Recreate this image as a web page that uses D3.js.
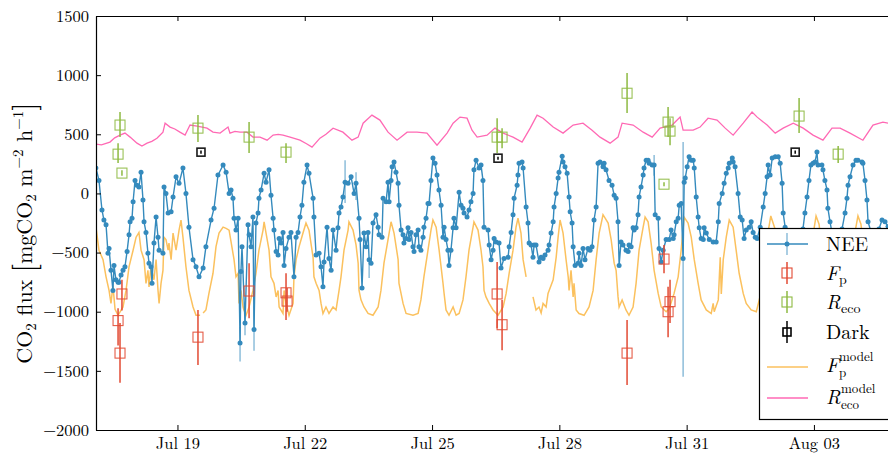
<!DOCTYPE html>
<html>
<head>
<meta charset="utf-8">
<script src="https://cdn.jsdelivr.net/npm/d3@7"></script>
<style>
  body { margin: 0; background: #fff; }
  svg { display: block; }
  svg text { font-family: 'Latin Modern Roman', 'Liberation Serif', serif; }
</style>
</head>
<body>
<div id="chart"></div>
<script>
// all times are hours since Jul 17 00:00
const neeSeries = [[1.9,215],[3.6,110],[5.3,-140],[6.4,-225],[7.6,-265],[8.7,-505],[9.3,-465],[10.4,-650],[11.5,-820],[12.1,-610],[13.2,-730],[14.4,-750],[14.9,-750],[16.1,-690],[17.2,-650],[18.3,-620],[19.5,-490],[20.6,-350],[21.2,-240],[22.3,-210],[22.9,-70],[24.0,110],[25.1,70],[26.2,55],[27.4,180],[28.5,-55],[29.1,-240],[30.2,-330],[31.3,-505],[31.9,-590],[33.0,-620],[33.6,-760],[34.7,-420],[35.9,-200],[37.0,-370],[37.6,-480],[39.8,-505],[40.4,55],[41.5,0],[42.7,-165],[44.4,-155],[45.5,-30],[47.2,140],[48.9,85],[51.1,215],[52.8,0],[54.5,-285],[56.8,-560],[58.5,-620],[60.2,-705],[62.5,-630],[64.1,-450],[67.0,-225],[68.7,-125],[70.9,155],[73.8,240],[75.5,180],[77.2,0],[78.3,30],[79.4,-40],[80.0,-210],[81.1,-310],[82.3,-210],[83.4,-1265],[83.9,-660],[84.5,-450],[86.2,-1095],[87.9,-265],[88.5,-350],[89.6,-450],[90.7,-200],[91.3,-1150],[92.4,-250],[93.6,-165],[94.1,-40],[95.3,30],[97.0,170],[98.1,95],[99.8,200],[100.9,-15],[102.1,-210],[102.6,-310],[103.8,-490],[104.9,-520],[105.5,-380],[106.6,-420],[107.7,-330],[108.3,-610],[109.4,-465],[111.1,-370],[112.2,-330],[113.9,-705],[115.1,-370],[116.2,-330],[117.3,-200],[118.4,-100],[119.5,95],[121.3,240],[122.4,170],[124.7,-40],[125.2,-200],[126.4,-520],[128.1,-505],[129.2,-620],[130.3,-790],[130.9,-580],[132.6,-285],[133.7,-550],[134.9,-650],[136.0,-310],[137.7,-480],[138.8,-290],[139.4,-165],[140.5,-115],[141.6,-30],[142.8,95],[144.5,85],[146.2,140],[147.9,0],[149.0,85],[150.7,-210],[151.3,-390],[152.4,-800],[153.5,-335],[154.7,-450],[155.8,-330],[156.4,-560],[157.5,-590],[158.6,-250],[160.3,-180],[161.5,-285],[162.0,-350],[163.7,-370],[164.3,-40],[166.0,-70],[167.1,95],[167.7,-70],[168.8,110],[169.4,225],[170.5,265],[171.6,180],[172.8,85],[173.3,-100],[174.5,-310],[175.6,-350],[176.1,-420],[177.3,-380],[178.4,-290],[179.0,-390],[180.1,-330],[181.2,-450],[181.8,-490],[182.9,-350],[184.1,-310],[184.6,-450],[185.7,-480],[186.9,-370],[187.4,-285],[188.6,-210],[189.7,-85],[190.3,-85],[191.4,110],[192.5,300],[193.7,255],[194.8,155],[195.9,30],[197.1,-100],[198.2,-370],[198.8,-285],[199.9,-390],[201.0,-480],[201.6,-610],[202.7,-480],[203.9,-290],[204.4,-210],[205.6,-290],[207.3,10],[208.4,-100],[209.5,-125],[210.1,-165],[211.8,-200],[212.9,-140],[214.0,-70],[215.2,0],[215.7,200],[216.9,280],[218.6,215],[219.7,240],[220.8,110],[221.4,-285],[223.7,-310],[224.3,-435],[225.4,-560],[226.5,-480],[227.1,-380],[228.2,-410],[229.9,-420],[231.0,-630],[232.7,-550],[235.0,-540],[235.6,-450],[236.7,-330],[237.8,-180],[238.4,-40],[240.1,70],[240.6,155],[241.2,255],[242.9,265],[243.5,215],[245.2,-115],[246.3,-250],[246.9,-420],[248.0,-435],[249.1,-540],[249.7,-435],[250.8,-435],[252.5,-580],[253.7,-540],[254.8,-550],[255.9,-520],[257.6,-480],[258.2,-435],[259.3,-335],[260.5,-240],[261.0,-115],[262.2,0],[263.3,130],[263.8,180],[265.6,315],[266.1,265],[267.2,225],[268.4,170],[269.5,-30],[270.1,-155],[271.2,-250],[271.8,-450],[272.9,-610],[274.6,-590],[275.1,-505],[276.3,-610],[277.4,-465],[278.5,-560],[280.2,-465],[281.4,-480],[282.5,-450],[283.6,-225],[284.8,-115],[285.9,255],[287.0,265],[288.7,225],[289.3,255],[290.4,200],[292.1,110],[293.8,70],[295.0,-15],[296.1,-40],[297.2,-240],[297.8,-610],[298.9,-410],[300.0,-435],[301.7,-480],[302.9,-490],[303.4,-435],[304.6,-450],[305.7,-290],[306.3,-310],[307.4,-290],[308.5,-180],[309.1,-30],[310.2,55],[311.4,155],[311.9,215],[313.1,280],[314.2,280],[314.8,255],[316.5,240],[317.6,240],[318.2,-180],[319.9,-210],[320.4,-465],[321.6,-580],[322.7,-480],[324.4,-390],[326.1,-390],[327.2,-310],[328.4,-380],[328.9,-350],[330.1,-240],[331.2,-210],[331.8,-100],[332.9,-85],[334.0,-550],[334.6,95],[335.2,130],[336.3,225],[337.4,310],[338.6,280],[339.7,280],[340.3,215],[341.4,-30],[342.5,-200],[343.1,-290],[344.2,-380],[345.4,-390],[345.9,-290],[347.1,-335],[348.8,-390],[351.0,-410],[352.7,-410],[353.9,-240],[354.4,-85],[356.1,0],[357.2,85],[358.4,170],[359.5,215],[360.1,255],[361.8,300],[362.3,265],[363.4,225],[365.1,0],[366.3,-200],[367.4,-225],[368.5,-380],[369.7,-310],[371.4,-285],[372.5,-240],[373.6,-330],[374.8,-370],[375.9,-380],[377.6,-285],[379.3,-115],[380.4,0],[381.5,140],[382.1,240],[383.2,155],[384.4,300],[386.1,310],[387.8,310],[388.9,255],[390.0,85],[390.6,-165],[391.7,-285],[393.4,-400],[395.1,-450],[397.3,-480],[399.0,-420],[400.7,-380],[401.8,-300],[402.9,-165],[404.1,-30],[405.2,110],[406.3,240],[407.5,255],[408.6,265],[409.7,350],[410.3,240],[412.5,240],[413.1,200],[414.2,110],[415.4,30],[415.9,-125],[417.1,-240],[418.8,-380],[420.5,-450],[422.2,-420],[423.9,-300],[425.6,-165],[426.7,-40],[427.3,70],[428.4,140],[430.1,240],[431.8,280],[432.9,280],[435.2,265],[435.7,255],[436.9,110],[438.0,-55],[438.6,-240],[440.8,-350],[443.1,-380],[444.8,-300],[446.5,-225],[448.2,-240],[449.9,-280]];

// [hour, low, high]
const neeErrors = [[83.4,-1420,-1130],[86.2,-1200,-990],[91.3,-1330,-950],[142.8,-80,280],[149.0,-55,180],[156.4,-715,-560],[317.6,150,325],[334.0,-1550,435]];

// [hour, value, low, high]
const fpPoints = [[14.4,-1075,-1285,-970],[15.5,-1350,-1600,-1095],[16.6,-850,-990,-730],[59.6,-1215,-1450,-985],[88.5,-825,-1055,-590],[109.4,-840,-1070,-675],[110.0,-910,-1000,-800],[228.8,-850,-1140,-580],[231.6,-1110,-1325,-900],[302.3,-1350,-1620,-1070],[323.2,-555,-675,-435],[325.5,-1000,-1215,-790],[326.6,-915,-1095,-730]];
const recoPoints = [[14.4,332,257,425],[15.5,578,476,688],[16.6,172,150,195],[59.6,552,434,662],[88.5,476,341,603],[109.4,349,257,425],[228.8,476,341,636],[231.6,476,383,552],[302.3,847,679,1018],[323.2,78,60,95],[325.5,603,476,730],[326.6,527,408,636],[399.6,654,510,806],[421.7,332,257,400]];
const darkPoints = [[61.3,349,335,363],[229.3,298,285,310],[397.4,349,335,363]];

const fpModel = [[1.9,-285],[3.6,-480],[5.9,-560],[7.6,-705],[9.3,-820],[10.4,-930],[11.5,-780],[12.7,-980],[14.4,-1030],[17.2,-960],[18.9,-820],[20.6,-620],[22.9,-480],[24.6,-370],[26.2,-330],[27.4,-480],[29.1,-560],[30.2,-760],[31.3,-650],[31.9,-790],[33.0,-620],[34.7,-730],[35.9,-560],[37.0,-820],[37.6,-930],[38.7,-760],[39.8,-650],[40.4,-370],[41.5,-390],[42.7,-480],[43.2,-420],[44.4,-560],[45.5,-335],[47.2,-480],[48.9,-310],[50.0,-225],[51.1,-370],[52.8,-620],[54.5,-820],[56.8,-960],[58.5,-1030],[60.8,-1030],[61.5,null],[62.5,-1010],[64.1,-985],[65.8,-845],[68.1,-675],[69.8,-450],[71.5,-335],[73.8,-285],[75.5,-295],[77.2,-310],[80.0,-560],[81.1,-705],[82.3,-675],[82.8,-930],[83.9,-820],[85.1,-960],[85.6,-985],[86.8,-1030],[88.5,-960],[90.7,-820],[92.4,-675],[94.1,-480],[96.4,-310],[97.0,-240],[98.1,-335],[99.8,-480],[100.9,-705],[102.6,-760],[103.8,-875],[104.9,-820],[105.5,-960],[107.7,-1015],[108.3,-820],[109.4,-930],[111.1,-1030],[113.4,-930],[113.9,-705],[115.1,-560],[116.8,-450],[119.0,-335],[120.7,-250],[122.4,-310],[124.7,-540],[125.2,-705],[126.4,-760],[128.1,-820],[129.2,-930],[130.3,-1015],[132.0,-960],[133.7,-1015],[136.0,-960],[137.7,-985],[139.4,-820],[140.5,-705],[142.2,-480],[144.5,-310],[145.0,-240],[147.3,-310],[149.0,-435],[150.2,-590],[150.7,-820],[151.8,-900],[153.5,-960],[155.8,-1015],[158.6,-1030],[161.5,-960],[163.1,-820],[164.8,-590],[167.1,-390],[168.8,-240],[170.5,-335],[172.8,-560],[173.3,-760],[175.6,-930],[177.3,-1015],[181.2,-1030],[184.1,-1015],[185.7,-900],[187.4,-705],[189.7,-480],[191.4,-310],[192.5,-225],[194.3,-285],[196.0,-480],[198.2,-760],[198.8,-845],[199.9,-985],[201.6,-1030],[203.9,-960],[205.6,-1030],[207.3,-1015],[209.5,-900],[211.2,-705],[212.9,-480],[215.2,-285],[215.7,-240],[218.0,-310],[219.7,-480],[220.8,-620],[221.4,-820],[222.5,-875],[224.3,-930],[226.5,-985],[229.3,-1030],[232.2,-960],[233.9,-845],[235.6,-675],[237.8,-480],[239.5,-285],[240.6,-210],[242.3,-335],[243.5,-560],[245.2,-705],[246.5,null],[249.1,-875],[250.8,-985],[252.5,-960],[253.7,-1010],[254.8,-930],[256.5,-960],[257.6,-845],[260.5,-730],[262.2,-540],[263.3,-370],[264.4,-225],[266.1,-335],[267.8,-560],[269.0,-705],[269.5,-820],[270.6,-650],[271.8,-875],[272.3,-760],[273.5,-985],[275.1,-1015],[278.0,-1030],[280.8,-960],[283.1,-820],[284.8,-560],[286.5,-335],[288.7,-180],[291.6,-250],[293.3,-390],[295.0,-590],[296.1,-650],[297.2,-875],[297.8,-960],[299.5,-900],[301.7,-985],[303.4,-1030],[305.7,-960],[307.4,-760],[309.1,-480],[311.4,-285],[312.5,-200],[314.2,-240],[315.9,-420],[317.6,-650],[319.9,-845],[321.6,-960],[324.4,-1000],[326.1,-975],[328.9,-845],[331.2,-705],[332.9,-480],[334.6,-200],[336.8,-250],[338.6,-370],[340.3,-560],[342.5,-760],[344.2,-900],[347.1,-985],[349.9,-1015],[351.0,-930],[351.6,-1000],[353.9,-900],[355.0,-540],[355.6,-850],[356.7,-560],[358.4,-370],[360.1,-225],[362.3,-285],[364.0,-480],[365.7,-675],[368.0,-845],[369.7,-930],[372.5,-985],[375.4,-1000],[378.7,-800],[381.0,-420],[383.6,-190],[386.0,-300],[388.3,-600],[391.0,-850],[393.9,-980],[399.0,-1020],[403.5,-980],[405.8,-700],[407.5,-350],[409.2,-190],[410.9,-260],[413.1,-560],[416.0,-860],[418.8,-990],[423.3,-1020],[427.8,-950],[429.5,-680],[431.2,-330],[432.9,-190],[434.6,-260],[436.9,-560],[439.7,-860],[443.1,-990],[450.4,-1020]];

const recoModel = [[1.9,417],[5.0,410],[9.8,434],[12.5,470],[15.5,493],[18.3,510],[21.2,476],[25.1,425],[27.9,400],[30.8,425],[33.5,440],[36.4,467],[39.8,518],[41.0,594],[43.8,561],[46.5,545],[49.4,518],[52.3,493],[55.1,578],[59.1,569],[62.0,560],[64.7,552],[68.1,518],[72.1,510],[76.6,561],[77.7,510],[80.5,525],[83.4,518],[87.3,518],[90.7,476],[94.7,476],[98.7,450],[102.1,493],[105.0,500],[107.7,493],[111.7,476],[117.3,450],[121.0,420],[124.1,392],[128.6,467],[132.0,500],[136.0,552],[141.6,518],[146.7,450],[150.2,476],[153.0,594],[158.0,662],[162.5,620],[167.1,518],[172.2,450],[177.9,518],[183.5,518],[189.1,510],[194.8,408],[200.5,510],[203.9,594],[207.8,645],[211.8,636],[214.6,535],[217.5,476],[223.1,493],[227.6,552],[232.2,510],[237.8,476],[242.9,434],[247.5,552],[251.4,662],[254.8,636],[260.5,561],[266.1,510],[271.8,578],[277.4,594],[282.5,535],[287.0,476],[292.7,425],[297.2,476],[299.5,594],[305.7,578],[311.4,518],[316.5,476],[321.0,552],[327.8,578],[332.3,645],[334.0,535],[339.7,535],[343.6,561],[348.1,636],[353.2,620],[357.8,552],[362.3,493],[368.0,594],[373.0,688],[375.9,645],[381.5,578],[386.1,510],[390.6,552],[396.3,594],[401.9,552],[407.5,493],[413.1,450],[418.2,552],[422.8,552],[428.4,510],[435.7,450],[441.4,578],[447.0,603],[449.9,594]];

const yTicks = [-2000, -1500, -1000, -500, 0, 500, 1000, 1500];
const xTickDays = [19, 22, 25, 28, 31, 34];   // July day numbers, 34 = Aug 03

const t0 = Date.UTC(2015, 6, 17);
const toDate = h => new Date(t0 + h * 3600e3);

const W = 888, H = 455;
const plotLeft = 96, plotTop = 16, plotBottom = 430;

const svg = d3.select("#chart").append("svg")
    .attr("width", W)
    .attr("height", H);

const x = d3.scaleUtc()
    .domain([toDate(1.92), new Date(Date.UTC(2015, 7, 5))])
    .range([plotLeft, 898.8]);
const y = d3.scaleLinear()
    .domain([-2000, 1500])
    .range([plotBottom, plotTop]);

const cBlue = "#348ABD", cRed = "#E24A33", cGreen = "#8EBA42",
      cOrange = "#FBC15E", cPink = "#FF69B4";

svg.append("clipPath").attr("id", "plot")
    .append("rect")
    .attr("x", plotLeft).attr("y", plotTop)
    .attr("width", W - plotLeft).attr("height", plotBottom - plotTop);

const plot = svg.append("g").attr("clip-path", "url(#plot)");

const line = d3.line()
    .defined(d => d[1] !== null)
    .x(d => x(toDate(d[0])))
    .y(d => y(d[1]));

// model lines
plot.append("path")
    .datum(fpModel)
    .attr("d", line)
    .attr("fill", "none")
    .attr("stroke", cOrange)
    .attr("stroke-width", 1.5);

plot.append("path")
    .datum(recoModel)
    .attr("d", line)
    .attr("fill", "none")
    .attr("stroke", cPink)
    .attr("stroke-width", 1.3);

// NEE
plot.selectAll(".nee-err")
    .data(neeErrors)
    .enter().append("line")
    .attr("x1", d => x(toDate(d[0])))
    .attr("x2", d => x(toDate(d[0])))
    .attr("y1", d => y(d[1]))
    .attr("y2", d => y(d[2]))
    .attr("stroke", cBlue)
    .attr("stroke-opacity", 0.65)
    .attr("stroke-width", 1.3);

plot.append("path")
    .datum(neeSeries)
    .attr("d", line)
    .attr("fill", "none")
    .attr("stroke", cBlue)
    .attr("stroke-width", 1.4);

plot.selectAll(".nee-dot")
    .data(neeSeries)
    .enter().append("circle")
    .attr("cx", d => x(toDate(d[0])))
    .attr("cy", d => y(d[1]))
    .attr("r", 2.5)
    .attr("fill", cBlue);

// square markers with error bars
function squares(data, color, size, width) {
    const g = plot.append("g");
    g.selectAll("line")
        .data(data)
        .enter().append("line")
        .attr("x1", d => x(toDate(d[0])))
        .attr("x2", d => x(toDate(d[0])))
        .attr("y1", d => y(d[2]))
        .attr("y2", d => y(d[3]))
        .attr("stroke", color)
        .attr("stroke-width", 1.5);
    g.selectAll("rect")
        .data(data)
        .enter().append("rect")
        .attr("x", d => x(toDate(d[0])) - size / 2)
        .attr("y", d => y(d[1]) - size / 2)
        .attr("width", size)
        .attr("height", size)
        .attr("fill", "none")
        .attr("stroke", color)
        .attr("stroke-opacity", 0.9)
        .attr("stroke-width", width);
}
squares(fpPoints, cRed, 10, 1.1);
squares(recoPoints, cGreen, 10, 1.1);
squares(darkPoints, "#000", 8, 1.6);

// axes
const axisFont = 16.5;
const tickDates = xTickDays.map(d => new Date(Date.UTC(2015, 6, d)));

const gx = svg.append("g")
    .attr("transform", `translate(0,${plotBottom})`)
    .call(d3.axisBottom(x).tickValues(tickDates).tickFormat(d3.utcFormat("%b %d"))
        .tickSize(-5).tickSizeOuter(0).tickPadding(7));
const gxTop = svg.append("g")
    .attr("transform", `translate(0,${plotTop})`)
    .call(d3.axisTop(x).tickValues(tickDates).tickFormat("")
        .tickSize(-5).tickSizeOuter(0));
const gy = svg.append("g")
    .attr("transform", `translate(${plotLeft},0)`)
    .call(d3.axisLeft(y).tickValues(yTicks).tickFormat(d3.format("d"))
        .tickSize(-5).tickSizeOuter(0).tickPadding(7));

[gx, gxTop, gy].forEach(g => {
    g.attr("font-family", null).attr("font-size", axisFont);
    g.select(".domain").attr("stroke", "#000").attr("stroke-width", 1.2);
    g.selectAll(".tick line").attr("stroke", "#000").attr("stroke-width", 1);
    g.selectAll(".tick text").attr("fill", "#000");
});

// rich text helper: parts are [text, size, shift, italic]
function rich(sel, parts) {
    let prev = 0;
    parts.forEach(p => {
        const shift = p[2] || 0;
        sel.append("tspan")
            .attr("font-size", p[1])
            .attr("dy", shift - prev)
            .attr("font-style", p[3] ? "italic" : null)
            .text(p[0]);
        prev = shift;
    });
}

const ylab = svg.append("text")
    .attr("transform", `translate(32,${(plotTop + plotBottom) / 2 + 10}) rotate(-90)`)
    .attr("text-anchor", "middle")
    .attr("fill", "#000");
rich(ylab, [["CO", 22], ["2", 15, 4], [" flux  ", 22], ["[", 30, 2], ["mgCO", 22], ["2", 15, 4],
    [" m", 22], ["\u22122", 15, -9], [" h", 22], ["\u22121", 15, -9], ["]", 30, 2]]);

// legend
const lg = svg.append("g");
lg.append("rect")
    .attr("x", 759.5).attr("y", 228.5)
    .attr("width", 150).attr("height", 191)
    .attr("fill", "#fff")
    .attr("stroke", "#000")
    .attr("stroke-width", 1.2);

const hx1 = 767, hx2 = 808, hxm = 787, tx = 826;

lg.append("line").attr("x1", hx1).attr("x2", hx2).attr("y1", 244).attr("y2", 244)
    .attr("stroke", cBlue).attr("stroke-width", 1.4);
lg.append("line").attr("x1", hxm).attr("x2", hxm).attr("y1", 233).attr("y2", 255)
    .attr("stroke", cBlue).attr("stroke-opacity", 0.65).attr("stroke-width", 1.3);
lg.append("circle").attr("cx", hxm).attr("cy", 244).attr("r", 2.5).attr("fill", cBlue);

[[273, cRed, 10, 1.1], [302, cGreen, 10, 1.1], [332, "#000", 8, 1.6]].forEach(h => {
    lg.append("line").attr("x1", hxm).attr("x2", hxm).attr("y1", h[0] - 11).attr("y2", h[0] + 11)
        .attr("stroke", h[1]).attr("stroke-width", 1.5);
    lg.append("rect").attr("x", hxm - h[2] / 2).attr("y", h[0] - h[2] / 2)
        .attr("width", h[2]).attr("height", h[2])
        .attr("fill", "none").attr("stroke", h[1]).attr("stroke-width", h[3]);
});

lg.append("line").attr("x1", hx1).attr("x2", hx2).attr("y1", 367).attr("y2", 367)
    .attr("stroke", cOrange).attr("stroke-width", 1.5);
lg.append("line").attr("x1", hx1).attr("x2", hx2).attr("y1", 398).attr("y2", 398)
    .attr("stroke", cPink).attr("stroke-width", 1.4);

function label(xp, yp, txt, size, italic) {
    lg.append("text")
        .attr("x", xp).attr("y", yp)
        .attr("font-size", size)
        .attr("font-style", italic ? "italic" : null)
        .attr("fill", "#000")
        .text(txt);
}
label(tx, 251, "NEE", 20);
label(tx, 280, "F", 20, true);
label(tx + 13, 284, "p", 14);
label(tx, 309, "R", 20, true);
label(tx + 15, 313, "eco", 14);
label(tx, 339, "Dark", 20);
label(tx, 372, "F", 20, true);
label(tx + 13, 361, "model", 13);
label(tx + 13, 377, "p", 13);
label(tx, 404, "R", 20, true);
label(tx + 15, 393, "model", 13);
label(tx + 15, 409, "eco", 13);
</script>
</body>
</html>
